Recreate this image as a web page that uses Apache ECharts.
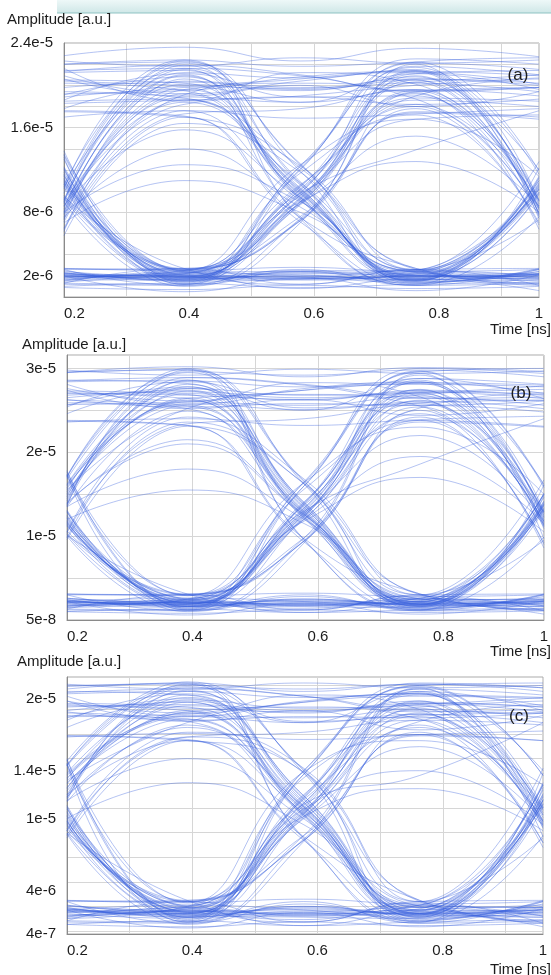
<!DOCTYPE html>
<html><head><meta charset="utf-8">
<script src="https://cdn.jsdelivr.net/npm/echarts@6/dist/echarts.min.js"></script>
<style>html,body{margin:0;padding:0;background:#fff}#c{width:551px;height:975px}</style>
</head><body><div id="c"></div>
<script>
// sample instants of every trace (ns)
const timeNs = [0.2, 0.392, 0.578, 0.763, 0.96];
// amplitudes are given in units of 1e-6 a.u.
const ampUnit = 1e-6;

// panel (a) traces
const tracesA = [
 [1.8,2.0,1.7,1.9,2.1],[2.3,1.6,2.2,2.0,1.5],[1.5,2.4,1.9,1.4,2.2],[2.0,1.8,2.5,2.3,1.8],
 [1.9,2.1,1.8,2.0,10.5],[2.2,1.7,2.0,1.6,9.8],[1.6,2.3,2.4,2.2,11.2],[2.1,1.5,1.7,2.5,10.2],
 [2.0,1.8,9.0,19.5,8.5],[1.7,2.2,10.2,20.5,7.9],[2.4,1.9,9.6,18.2,9.1],[1.8,2.5,8.8,21.3,8.2],
 [2.2,2.0,9.3,20.2,19.4],[1.6,1.7,10.5,19.0,20.6],[2.0,2.3,9.8,21.8,21.0],[2.5,1.5,8.7,18.6,18.0],
 [8.1,19.8,10.0,2.0,1.9],[7.4,20.6,9.2,1.6,2.2],[8.8,18.4,10.8,2.4,1.7],[9.2,21.5,9.5,1.8,2.0],
 [7.8,19.2,9.7,2.1,10.4],[8.5,20.9,10.3,1.7,9.9],[7.1,17.6,9.1,2.5,11.0],[9.0,21.9,10.9,1.5,10.6],
 [8.3,20.1,19.5,20.8,8.6],[7.6,18.9,18.4,19.6,7.8],[8.9,21.2,20.7,21.5,9.0],[7.9,19.6,20.2,18.7,8.3],
 [8.0,20.4,19.8,20.3,21.0],[7.3,19.1,20.6,21.2,20.1],[9.1,21.6,20.9,19.5,19.8],[8.6,18.2,19.0,20.0,20.7],
 [11.2,2.1,1.8,2.0,2.2],[10.6,1.6,2.3,1.7,1.8],[12.0,2.4,1.9,2.5,2.0],[11.6,1.8,2.0,1.5,1.6],
 [10.9,2.0,1.7,2.2,10.8],[11.8,2.3,2.1,1.6,9.7],[10.4,1.5,2.4,1.9,11.3],[12.2,1.9,1.6,2.3,10.1],
 [11.4,1.8,9.4,20.3,8.4],[10.8,2.2,10.1,19.2,7.6],[12.1,1.6,9.0,21.4,9.2],[11.0,2.5,10.6,18.0,8.0],
 [11.5,2.1,9.9,20.6,20.0],[10.7,1.7,9.2,19.4,19.8],[12.3,2.4,10.4,21.1,21.4],[11.1,1.9,8.9,18.8,18.5],
 [20.2,19.5,10.2,1.9,2.1],[19.1,20.8,9.4,2.3,1.7],[21.4,21.6,10.7,1.6,2.4],[18.5,18.7,9.8,2.1,1.9],
 [20.5,20.2,9.9,2.0,10.3],[19.4,18.8,10.6,1.7,11.0],[21.2,21.4,9.3,2.4,9.9],[18.9,19.6,10.1,1.5,10.7],
 [19.8,20.3,19.6,20.5,8.8],[20.9,19.2,20.4,21.4,7.7],[18.6,21.1,18.9,19.0,8.4],[21.6,18.5,21.2,20.1,9.1],
 [20.4,20.0,19.7,20.6,20.2],[19.2,19.5,20.8,21.3,20.9],[21.3,21.9,21.0,19.4,19.8],[18.3,18.6,18.9,18.2,18.7],
 [7.5,14.0,8.5,2.0,2.1],[8.0,12.5,9.0,1.8,10.2],[2.1,1.9,8.8,15.2,8.6],[22.8,23.6,22.3,23.5,22.7],
 [0.9,0.7,1.1,0.8,1.0],[2.2,2.0,9.6,16.8,17.2],
 [1.0,1.3,0.9,1.2,1.4],[2.7,2.5,2.8,2.4,2.6],[1.3,2.7,1.2,2.6,1.1],[2.6,1.1,2.4,1.3,2.7],
 [6.2,18.6,12.2,2.6,1.2],[10.4,21.0,7.6,1.1,2.6],[5.8,16.4,11.8,1.4,2.4],[9.8,22.3,12.5,2.7,1.3],
 [13.4,2.6,7.2,19.3,6.4],[9.3,1.2,12.4,21.7,11.6],[13.8,1.4,11.7,17.2,6.8],[9.6,2.7,7.4,20.9,12.0],
 [6.5,17.3,17.8,19.6,19.0],[10.2,22.4,21.8,22.1,21.5],[22.0,22.2,11.9,1.3,2.6],[17.6,17.1,7.5,2.7,1.1],
 [1.2,1.1,7.3,17.8,7.0],[2.7,2.6,12.3,22.2,11.9],[13.2,1.2,2.6,1.1,1.3],[9.5,2.7,1.2,2.6,2.7],
 [1.3,1.2,12.0,22.5,22.0],[2.6,2.7,7.6,17.4,16.8],
 [17.0,17.6,16.9,17.3,17.8],[22.3,21.8,22.6,22.1,22.4],[20.6,19.0,20.0,18.0,19.4],[17.8,19.9,18.4,21.1,19.6],
 [17.5,17.0,12.4,2.6,12.8],[22.0,22.4,7.4,1.1,7.6],[13.0,1.3,12.1,22.2,22.6],[9.4,2.6,7.2,17.5,17.0],
 [6.4,17.0,7.1,1.2,12.2],[10.6,22.1,12.6,2.6,7.3],[13.5,2.5,12.5,16.8,11.4],[9.0,1.0,7.0,22.0,7.4],
 [7.0,11.0,8.0,2.4,2.2],[1.9,2.2,9.0,12.8,8.0],[8.6,15.8,9.4,1.6,11.4],[2.3,1.6,9.8,13.9,17.6],
 [2.0,0.5,1.8,0.6,2.1],[1.4,1.9,0.8,1.7,0.6]
];

// panel (b) traces
const tracesB = [
 [2.1,1.8,2.3,1.9,2.0],[1.6,2.4,1.7,2.2,2.6],[2.5,2.0,1.4,2.6,1.7],[1.9,1.5,2.1,1.6,2.3],
 [2.0,2.2,1.8,2.1,14.2],[2.4,1.6,2.5,1.8,13.1],[1.7,2.1,1.9,2.6,15.0],[2.2,2.6,2.2,1.5,13.8],
 [1.8,2.3,12.6,26.8,12.0],[2.3,1.7,13.9,28.4,11.2],[2.6,2.0,12.1,24.6,12.8],[1.5,2.5,13.4,27.5,10.9],
 [2.2,1.9,12.9,27.2,26.4],[1.7,2.4,13.7,25.3,27.1],[2.4,1.6,12.3,28.8,28.1],[2.0,2.2,14.1,26.1,25.2],
 [14.5,27.3,13.2,2.1,1.9],[15.3,25.6,12.4,1.7,2.4],[13.8,28.6,13.8,2.5,1.6],[16.0,26.2,12.7,1.9,2.2],
 [14.9,26.5,12.9,2.2,13.9],[15.6,28.1,13.5,1.6,14.6],[13.5,24.9,12.2,2.4,13.2],[16.2,27.8,14.0,1.8,15.1],
 [14.7,27.0,26.2,27.4,12.3],[15.8,25.8,25.1,26.0,11.4],[13.9,28.5,27.8,28.2,12.9],[15.1,26.4,26.9,25.5,11.8],
 [14.2,27.6,26.8,27.1,27.9],[15.5,25.2,27.4,28.3,27.0],[13.6,28.9,28.0,26.4,26.6],[16.1,26.0,25.6,26.9,27.5],
 [12.1,2.0,1.8,2.2,2.0],[11.4,1.6,2.4,1.8,2.5],[12.8,2.5,2.0,2.4,1.7],[11.8,1.8,1.6,1.5,2.1],
 [12.4,2.1,2.2,1.9,14.0],[11.2,2.4,1.7,2.3,13.3],[13.0,1.6,2.5,1.7,14.8],[11.7,2.2,1.9,2.6,13.6],
 [12.2,1.9,13.1,27.1,12.2],[11.5,2.3,12.5,25.4,11.6],[12.9,1.7,13.8,28.6,12.7],[11.9,2.6,12.0,26.2,11.1],
 [12.5,2.0,13.3,27.4,26.8],[11.3,2.4,12.7,25.9,26.2],[13.1,1.6,14.0,28.3,28.0],[11.6,2.1,12.4,26.6,25.6],
 [27.0,26.4,13.0,2.1,2.2],[25.6,27.8,12.3,1.7,1.8],[28.4,28.6,13.7,2.5,2.4],[26.2,25.2,12.8,1.9,1.6],
 [27.3,26.9,13.4,2.2,14.1],[25.9,25.5,12.6,1.6,13.4],[28.6,28.2,14.0,2.4,15.0],[26.5,27.4,12.1,1.8,13.7],
 [26.8,27.2,26.5,27.0,12.5],[28.1,25.7,27.6,28.4,11.7],[25.4,28.4,25.3,25.8,12.9],[27.6,26.1,28.3,26.6,11.3],
 [27.1,26.8,26.3,27.2,26.9],[25.7,26.0,27.4,28.1,27.8],[28.5,28.9,28.1,26.5,26.2],[26.3,25.4,25.8,25.6,26.1],
 [13.5,18.0,12.0,2.0,2.2],[14.0,21.0,12.5,1.9,13.8],[2.2,1.8,12.0,19.5,11.5],[29.5,30.2,29.0,30.1,29.6],
 [1.0,0.8,1.2,0.9,1.1],[2.3,1.9,12.8,22.0,11.8],
 [1.0,1.3,0.9,1.2,1.4],[3.1,2.9,3.2,2.8,3.0],[1.3,3.0,1.2,2.9,1.1],[3.0,1.1,2.8,1.3,3.1],
 [10.5,24.2,16.8,3.0,1.2],[16.8,29.8,9.6,1.1,3.0],[9.8,23.6,16.2,1.4,2.8],[17.2,30.0,16.6,3.1,1.3],
 [17.4,3.0,9.4,25.0,8.6],[10.2,1.2,16.5,29.6,15.8],[17.8,1.4,15.6,23.8,9.0],[10.6,3.1,9.8,29.2,16.2],
 [10.4,23.4,24.0,25.6,24.8],[17.0,29.6,29.2,29.8,29.0],[29.6,29.8,16.2,1.3,3.0],[23.8,23.2,9.7,3.1,1.1],
 [1.2,1.1,9.5,24.2,9.2],[3.1,3.0,16.4,29.7,16.0],[17.2,1.2,3.0,1.1,1.3],[10.1,3.1,1.2,3.0,3.1],
 [1.3,1.2,16.0,30.0,29.4],[3.0,3.1,9.8,23.6,23.0],
 [23.6,24.0,23.2,23.9,24.3],[29.8,29.2,29.9,29.4,29.7],[27.4,25.2,26.3,24.4,25.8],[24.6,27.6,25.0,28.8,26.4],
 [23.7,23.2,16.3,3.0,16.7],[29.5,29.9,9.5,1.2,9.9],[17.3,1.3,16.0,29.6,30.0],[10.3,3.0,9.4,23.8,23.1],
 [9.6,23.1,9.3,1.2,16.1],[17.1,29.5,16.5,3.0,9.5],[17.6,2.9,16.4,23.0,15.0],[10.0,1.0,9.2,29.4,9.7],
 [12.0,15.5,11.5,2.6,2.4],[2.1,2.5,11.8,17.0,10.5],[13.8,21.5,12.6,1.9,15.0],[2.6,1.9,13.0,18.6,24.0],
 [2.2,0.6,2.0,0.7,2.3],[1.5,2.1,0.9,2.0,0.7]
];

// panel (c) traces
const tracesC = [
 [2.3,2.0,2.5,2.1,2.2],[1.8,2.6,1.9,2.4,2.8],[2.7,2.2,1.6,2.8,1.9],[2.1,1.7,2.3,1.8,2.5],
 [2.2,2.4,2.0,2.3,12.1],[2.6,1.8,2.7,2.0,11.0],[1.9,2.3,2.1,2.8,12.8],[2.4,2.8,2.4,1.7,11.6],
 [2.0,2.5,10.6,19.2,10.1],[2.5,1.9,11.8,20.5,9.4],[2.8,2.2,10.2,17.6,10.8],[1.7,2.7,11.3,19.8,9.2],
 [2.4,2.1,10.9,19.6,18.9],[1.9,2.6,11.6,18.1,19.5],[2.6,1.8,10.4,20.8,20.3],[2.2,2.4,12.0,18.7,18.0],
 [12.3,19.7,11.1,2.3,2.1],[13.0,18.3,10.4,1.9,2.6],[11.7,20.7,11.7,2.7,1.8],[13.6,18.8,10.7,2.1,2.4],
 [12.6,19.0,10.9,2.4,11.8],[13.3,20.3,11.4,1.8,12.4],[11.4,17.8,10.3,2.6,11.2],[13.8,20.1,11.9,2.0,12.9],
 [12.5,19.4,18.8,19.8,10.3],[13.4,18.5,18.0,18.7,9.6],[11.8,20.6,20.1,20.4,10.9],[12.9,18.9,19.3,18.3,9.9],
 [12.0,19.9,19.2,19.5,20.1],[13.2,18.0,19.7,20.4,19.4],[11.5,20.9,20.2,18.9,19.1],[13.7,18.6,18.4,19.3,19.8],
 [10.2,2.2,2.0,2.4,2.2],[9.6,1.8,2.6,2.0,2.7],[10.8,2.7,2.2,2.6,1.9],[9.9,2.0,1.8,1.7,2.3],
 [10.5,2.3,2.4,2.1,11.9],[9.4,2.6,1.9,2.5,11.2],[11.0,1.8,2.7,1.9,12.6],[9.8,2.4,2.1,2.8,11.5],
 [10.3,2.1,11.1,19.5,10.3],[9.7,2.5,10.5,18.2,9.8],[10.9,1.9,11.7,20.6,10.7],[10.0,2.8,10.1,18.8,9.3],
 [10.6,2.2,11.3,19.7,19.3],[9.5,2.6,10.7,18.6,18.8],[11.1,1.8,11.9,20.3,20.1],[9.8,2.3,10.4,19.1,18.4],
 [19.4,19.0,11.0,2.3,2.4],[18.4,20.0,10.3,1.9,2.0],[20.4,20.6,11.6,2.7,2.6],[18.8,18.1,10.8,2.1,1.8],
 [19.6,19.3,11.3,2.4,12.0],[18.6,18.3,10.6,1.8,11.3],[20.6,20.3,11.9,2.6,12.8],[19.0,19.7,10.2,2.0,11.6],
 [19.3,19.5,19.0,19.4,10.5],[20.2,18.5,19.8,20.4,9.7],[18.2,20.4,18.1,18.5,10.9],[19.8,18.8,20.3,19.1,9.5],
 [19.5,19.2,18.9,19.6,19.3],[18.5,18.7,19.7,20.2,20.0],[20.5,20.8,20.2,19.0,18.8],[18.9,18.2,18.5,18.4,18.8],
 [11.5,15.0,10.0,2.2,2.4],[12.0,16.5,10.5,2.1,11.5],[2.4,2.0,10.0,16.0,9.8],[20.8,21.3,20.6,21.2,20.9],
 [1.2,1.0,1.4,1.1,1.3],[2.5,2.1,10.8,14.0,9.5],
 [1.2,1.5,1.1,1.4,1.6],[3.2,3.0,3.3,2.9,3.1],[1.5,3.1,1.4,3.0,1.3],[3.1,1.3,2.9,1.5,3.2],
 [9.0,17.2,14.2,3.1,1.4],[14.4,21.2,8.4,1.3,3.1],[8.6,16.8,13.8,1.6,2.9],[14.8,21.4,14.0,3.2,1.5],
 [14.6,3.1,8.2,17.8,7.6],[8.8,1.4,14.0,21.0,13.6],[15.0,1.6,13.4,17.0,8.0],[9.2,3.2,8.6,20.8,14.0],
 [9.0,16.8,17.2,18.2,17.8],[14.4,21.1,20.8,21.2,20.6],[21.1,21.2,13.8,1.5,3.1],[16.9,16.6,8.5,3.2,1.3],
 [1.4,1.3,8.3,17.2,8.0],[3.2,3.1,14.0,21.1,13.6],[14.5,1.4,3.1,1.3,1.5],[8.8,3.2,1.4,3.1,3.2],
 [1.5,1.4,13.7,21.3,20.9],[3.1,3.2,8.6,16.9,16.5],
 [16.8,17.1,16.6,17.0,17.3],[21.2,20.8,21.3,20.9,21.1],[19.8,18.1,19.0,17.4,18.6],[17.6,19.8,18.0,20.6,19.0],
 [16.9,16.5,13.9,3.1,14.2],[21.0,21.3,8.3,1.4,8.6],[14.6,1.5,13.7,21.1,21.3],[9.0,3.1,8.2,17.0,16.5],
 [8.4,16.5,8.2,1.4,13.8],[14.5,21.0,14.1,3.1,8.4],[14.9,3.0,13.9,16.5,12.8],[8.7,1.2,8.1,20.9,8.5],
 [10.0,13.0,9.5,2.8,2.6],[2.3,2.7,10.2,12.5,9.0],[11.8,17.6,11.0,2.1,13.0],[2.8,2.1,11.2,13.6,18.0],
 [2.4,0.9,2.2,1.0,2.5],[1.7,2.3,1.1,2.2,1.0]
];

// axis tick labels
const xTickValues = [0.2, 0.4, 0.6, 0.8, 0.96];
const xTickLabels = ['0.2', '0.4', '0.6', '0.8', '1'];
const yTickValuesA = [2e-6, 8e-6, 1.6e-5, 2.4e-5];
const yTickLabelsA = ['2e-6', '8e-6', '1.6e-5', '2.4e-5'];
const yTickValuesB = [5e-8, 1e-5, 2e-5, 3e-5];
const yTickLabelsB = ['5e-8', '1e-5', '2e-5', '3e-5'];
const yTickValuesC = [4e-7, 4e-6, 1e-5, 1.4e-5, 2e-5];
const yTickLabelsC = ['4e-7', '4e-6', '1e-5', '1.4e-5', '2e-5'];
// horizontal grid values of panel (c)
const yGridC = [0.65e-6, 2.7e-6, 4.75e-6, 6.8e-6, 8.85e-6, 10.9e-6, 12.95e-6, 15.0e-6, 17.05e-6, 19.1e-6, 21.15e-6];
const panelTags = ['(a)', '(b)', '(c)'];
const yName = 'Amplitude [a.u.]';
const xName = 'Time [ns]';

const FONT = '"Liberation Sans", Arial, Helvetica, sans-serif';
const TXT = '#1c1c1c';
const grids = [
  {left: 64, top: 43, width: 475, height: 254},
  {left: 67, top: 355, width: 477, height: 265},
  {left: 67, top: 677, width: 476, height: 257}
];
const yRanges = [
  {min: 0, max: 24e-6, interval: 2e-6},
  {min: 0, max: 31.6e-6, interval: 5e-6},
  {min: 4e-7, max: 21.8e-6}
];
const yTicks = [[yTickValuesA, yTickLabelsA], [yTickValuesB, yTickLabelsB], [yTickValuesC, yTickLabelsC]];
const allTraces = [tracesA, tracesB, tracesC];

function labelFor(vals, texts) {
  return function (v) {
    for (let i = 0; i < vals.length; i++) {
      if (Math.abs(v - vals[i]) <= Math.abs(vals[i]) * 1e-6 + 1e-15) return texts[i];
    }
    return '';
  };
}

const option = {
  animation: false,
  backgroundColor: '#fff',
  grid: grids.map(g => Object.assign({show: true, borderColor: '#ababab', borderWidth: 1, containLabel: false}, g)),
  xAxis: grids.map((g, i) => ({
    type: 'value', gridIndex: i, min: 0.2, max: 0.96, interval: 0.1,
    axisLine: {show: true, lineStyle: {color: '#8a8a8a', width: 1}},
    axisTick: {show: false},
    splitLine: {show: true, lineStyle: {color: '#d6d6d6', width: 1}},
    axisLabel: {
      customValues: xTickValues, formatter: labelFor(xTickValues, xTickLabels),
      color: TXT, fontFamily: FONT, fontSize: 15, margin: 9, alignMinLabel: 'left'
    }
  })),
  yAxis: grids.map((g, i) => {
    const ax = {
      type: 'value', gridIndex: i, min: yRanges[i].min, max: yRanges[i].max,
      axisLine: {show: true, lineStyle: {color: '#8a8a8a', width: 1}},
      axisTick: {show: false},
      splitLine: {show: true, lineStyle: {color: '#d6d6d6', width: 1}},
      axisLabel: {
        customValues: yTicks[i][0], formatter: labelFor(yTicks[i][0], yTicks[i][1]),
        color: TXT, fontFamily: FONT, fontSize: 15, margin: 11
      }
    };
    if (yRanges[i].interval) ax.interval = yRanges[i].interval;
    else ax.axisTick = {show: false, customValues: yGridC};
    return ax;
  }),
  series: [],
  graphic: []
};

allTraces.forEach((traces, p) => {
  traces.forEach(tr => {
    option.series.push({
      type: 'line', xAxisIndex: p, yAxisIndex: p,
      data: timeNs.map((t, k) => [t, tr[k] * ampUnit]),
      smooth: 0.5, showSymbol: false, symbol: 'none', silent: true,
      lineStyle: {color: '#3760dc', width: 0.75, opacity: 0.5},
      emphasis: {disabled: true}
    });
  });
});

// top banner
option.graphic.push({
  type: 'rect', shape: {x: 57, y: 0, width: 494, height: 13}, silent: true,
  style: {fill: {type: 'linear', x: 0, y: 0, x2: 0, y2: 1, colorStops: [{offset: 0, color: '#eef8f8'}, {offset: 1, color: '#cfe7e7'}]}}
});
option.graphic.push({type: 'line', shape: {x1: 57, y1: 13, x2: 551, y2: 13}, silent: true, style: {stroke: '#8fc3c3', lineWidth: 1}});

const yNamePos = [[7, 20], [22, 345], [17, 662]];
const xNamePos = [[551, 330], [551, 652], [551, 970]];
const tagPos = [[518, 75], [521, 393], [519, 716]];
grids.forEach((g, i) => {
  option.graphic.push({type: 'text', x: yNamePos[i][0], y: yNamePos[i][1], silent: true,
    style: {text: yName, fill: TXT, font: '15px ' + FONT, textAlign: 'left', textVerticalAlign: 'middle'}});
  option.graphic.push({type: 'text', x: xNamePos[i][0], y: xNamePos[i][1], silent: true,
    style: {text: xName, fill: TXT, font: '15px ' + FONT, textAlign: 'right', textVerticalAlign: 'middle'}});
  option.graphic.push({type: 'text', x: tagPos[i][0], y: tagPos[i][1], silent: true, z: 100,
    style: {text: panelTags[i], fill: TXT, font: '17px ' + FONT, textAlign: 'center', textVerticalAlign: 'middle'}});
});

const chart = echarts.init(document.getElementById('c'), null, {renderer: 'canvas'});
chart.setOption(option);
</script>
</body></html>
